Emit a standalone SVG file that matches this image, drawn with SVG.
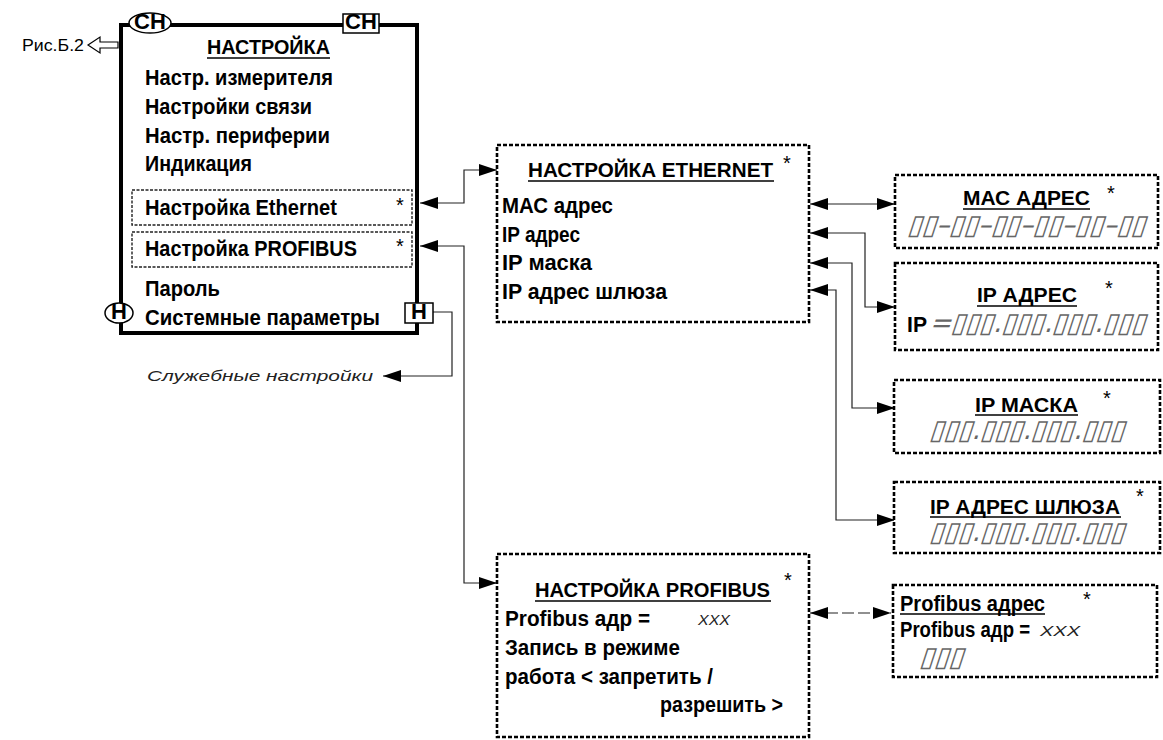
<svg xmlns="http://www.w3.org/2000/svg" width="1163" height="740" viewBox="0 0 1163 740">
<defs>
<style>
.b{font-family:"Liberation Sans",Arial,sans-serif;font-weight:bold;font-size:22px;fill:#000}
.t{font-size:21px}
.ast{font-family:"Liberation Sans",Arial,sans-serif;font-size:20px;fill:#000}
.it{font-family:"Liberation Sans",Arial,sans-serif;font-style:italic;font-weight:normal;font-size:15px;fill:#222}
.ph{font-family:"DejaVu Sans",sans-serif;font-size:23px;fill:#666}
.reg{font-family:"Liberation Sans",Arial,sans-serif;font-size:16px;fill:#000}
.box{fill:#fff;stroke:#000;stroke-width:2.6;stroke-dasharray:4 2}
.ibox{fill:none;stroke:#222;stroke-width:1.4;stroke-dasharray:3 1.5}
.ul{stroke:#000;stroke-width:1.5}
.c{fill:none;stroke:#222;stroke-width:1.2}
</style>
<marker id="ah" viewBox="0 0 18 12" markerWidth="18" markerHeight="12" refX="18" refY="6" orient="auto-start-reverse" markerUnits="userSpaceOnUse">
<path d="M0,0 L18,6 L0,12 z" fill="#000"/>
</marker>
</defs>
<rect width="1163" height="740" fill="#fff"/>

<g id="connectors">
<path class="c" d="M420,203 H464 V170 H497" marker-start="url(#ah)" marker-end="url(#ah)"/>
<path class="c" d="M420,246 H464 V583 H497" marker-start="url(#ah)" marker-end="url(#ah)"/>
<path class="c" d="M433,312 H452 V376 H383" marker-end="url(#ah)"/>
<path class="c" d="M810,204 H895" marker-start="url(#ah)" marker-end="url(#ah)"/>
<path class="c" d="M810,233 H865 V307 H895" marker-start="url(#ah)" marker-end="url(#ah)"/>
<path class="c" d="M810,263 H852 V408 H895" marker-start="url(#ah)" marker-end="url(#ah)"/>
<path class="c" d="M810,290 H836 V520 H895" marker-start="url(#ah)" marker-end="url(#ah)"/>
<path class="c" d="M810,613 H891" stroke-width="2" stroke-dasharray="12 4" marker-start="url(#ah)" marker-end="url(#ah)"/>
<polygon points="88,45 100,37 100,42 118,42 118,48 100,48 100,53" fill="#fff" stroke="#000" stroke-width="1.2"/>
</g>

<g id="ref-label">
<text class="reg" x="22" y="51" textLength="62" lengthAdjust="spacingAndGlyphs">Рис.Б.2</text>
</g>

<g id="main-menu">
<rect x="121" y="25" width="296" height="308" fill="#fff" stroke="#000" stroke-width="4"/>
<ellipse cx="150" cy="23" rx="21" ry="10" fill="#fff" stroke="#000" stroke-width="1.5"/>
<text class="b" x="150" y="29" font-size="15" text-anchor="middle">СН</text>
<rect x="343" y="14" width="36" height="19" fill="#fff" stroke="#000" stroke-width="1.5"/>
<text class="b" x="361" y="29" font-size="15" text-anchor="middle">СН</text>
<text class="b t" x="207" y="54" textLength="123" lengthAdjust="spacingAndGlyphs">НАСТРОЙКА</text>
<line class="ul" x1="207" y1="58" x2="330" y2="58"/>
<text class="b" x="145" y="85" textLength="188" lengthAdjust="spacingAndGlyphs">Настр. измерителя</text>
<text class="b" x="145" y="114" textLength="167" lengthAdjust="spacingAndGlyphs">Настройки связи</text>
<text class="b" x="145" y="143" textLength="185" lengthAdjust="spacingAndGlyphs">Настр. периферии</text>
<text class="b" x="145" y="171" textLength="107" lengthAdjust="spacingAndGlyphs">Индикация</text>
<rect class="ibox" x="132" y="190" width="280" height="35"/>
<text class="b" x="145" y="215" textLength="192" lengthAdjust="spacingAndGlyphs">Настройка Ethernet</text>
<text class="ast" x="396" y="212">*</text>
<rect class="ibox" x="132" y="232" width="280" height="35"/>
<text class="b" x="145" y="256" textLength="212" lengthAdjust="spacingAndGlyphs">Настройка PROFIBUS</text>
<text class="ast" x="396" y="253">*</text>
<text class="b" x="145" y="296" textLength="75" lengthAdjust="spacingAndGlyphs">Пароль</text>
<ellipse cx="119" cy="313" rx="14" ry="10" fill="#fff" stroke="#000" stroke-width="1.5"/>
<text class="b" x="119" y="319" font-size="15" text-anchor="middle">Н</text>
<text class="b" x="145" y="325" textLength="235" lengthAdjust="spacingAndGlyphs">Системные параметры</text>
<rect x="405" y="303" width="28" height="20" fill="#fff" stroke="#000" stroke-width="1.5"/>
<text class="b" x="419" y="319" font-size="15" text-anchor="middle">Н</text>
</g>

<g id="service-label">
<text class="it" x="147" y="381" textLength="226" lengthAdjust="spacingAndGlyphs">Служебные  настройки</text>
</g>

<g id="ethernet">
<rect class="box" x="497" y="145" width="312" height="177"/>
<text class="b t" x="528" y="177" textLength="245" lengthAdjust="spacingAndGlyphs">НАСТРОЙКА  ETHERNET</text>
<line class="ul" x1="528" y1="181" x2="774" y2="181"/>
<text class="ast" x="783" y="170">*</text>
<text class="b" x="502" y="213" textLength="111" lengthAdjust="spacingAndGlyphs">МАС адрес</text>
<text class="b" x="502" y="242" textLength="78" lengthAdjust="spacingAndGlyphs">IP адрес</text>
<text class="b" x="502" y="270" textLength="90" lengthAdjust="spacingAndGlyphs">IP маска</text>
<text class="b" x="502" y="299" textLength="165" lengthAdjust="spacingAndGlyphs">IP адрес шлюза</text>
</g>

<g id="mac">
<rect class="box" x="895" y="175" width="263" height="73"/>
<text class="b t" x="963" y="205" textLength="127" lengthAdjust="spacingAndGlyphs">МАС  АДРЕС</text>
<line class="ul" x1="963" y1="209" x2="1090" y2="209"/>
<text class="ast" x="1107" y="200">*</text>
<g transform="translate(907,234) skewX(-18) scale(1,1.2)"><text class="ph" x="0" y="0" textLength="238" lengthAdjust="spacingAndGlyphs">▯▯–▯▯–▯▯–▯▯–▯▯–▯▯</text></g>
</g>

<g id="ip">
<rect class="box" x="895" y="263" width="263" height="87"/>
<text class="b t" x="977" y="302" textLength="100" lengthAdjust="spacingAndGlyphs">IP  АДРЕС</text>
<line class="ul" x1="977" y1="306" x2="1077" y2="306"/>
<text class="ast" x="1105" y="295">*</text>
<text class="b" x="907" y="332" textLength="20" lengthAdjust="spacingAndGlyphs">IP</text>
<g transform="translate(929,332) skewX(-18) scale(1,1.2)"><text class="ph" x="0" y="0" textLength="216" lengthAdjust="spacingAndGlyphs">=▯▯▯.▯▯▯.▯▯▯.▯▯▯</text></g>
</g>

<g id="mask">
<rect class="box" x="894" y="380" width="266" height="73"/>
<text class="b t" x="975" y="412" textLength="103" lengthAdjust="spacingAndGlyphs">IP  МАСКА</text>
<line class="ul" x1="975" y1="415" x2="1078" y2="415"/>
<text class="ast" x="1103" y="405">*</text>
<g transform="translate(929,439) skewX(-18) scale(1,1.2)"><text class="ph" x="0" y="0" textLength="195" lengthAdjust="spacingAndGlyphs">▯▯▯.▯▯▯.▯▯▯.▯▯▯</text></g>
</g>

<g id="gateway">
<rect class="box" x="894" y="482" width="266" height="71"/>
<text class="b t" x="930" y="514" textLength="190" lengthAdjust="spacingAndGlyphs">IP  АДРЕС ШЛЮЗА</text>
<line class="ul" x1="930" y1="517" x2="1121" y2="517"/>
<text class="ast" x="1136" y="503">*</text>
<g transform="translate(929,541) skewX(-18) scale(1,1.2)"><text class="ph" x="0" y="0" textLength="195" lengthAdjust="spacingAndGlyphs">▯▯▯.▯▯▯.▯▯▯.▯▯▯</text></g>
</g>

<g id="profibus">
<rect class="box" x="497" y="554" width="312" height="183"/>
<text class="b t" x="535" y="597" textLength="235" lengthAdjust="spacingAndGlyphs">НАСТРОЙКА PROFIBUS</text>
<line class="ul" x1="535" y1="601" x2="771" y2="601"/>
<text class="ast" x="784" y="587">*</text>
<text class="b" x="505" y="626" textLength="145" lengthAdjust="spacingAndGlyphs">Profibus адр  =</text>
<text class="it" x="698" y="625" textLength="32" lengthAdjust="spacingAndGlyphs">XXX</text>
<text class="b" x="505" y="655" textLength="175" lengthAdjust="spacingAndGlyphs">Запись в режиме</text>
<text class="b" x="505" y="684" textLength="208" lengthAdjust="spacingAndGlyphs">работа &lt; запретить /</text>
<text class="b" x="660" y="712" textLength="123" lengthAdjust="spacingAndGlyphs">разрешить &gt;</text>
</g>

<g id="profibus-addr">
<rect class="box" x="893" y="585" width="264" height="92"/>
<text class="b" x="900" y="611" textLength="145" lengthAdjust="spacingAndGlyphs">Profibus адрес</text>
<line class="ul" x1="900" y1="614" x2="1045" y2="614"/>
<text class="ast" x="1083" y="606">*</text>
<text class="b" x="900" y="637" font-size="17" textLength="130" lengthAdjust="spacingAndGlyphs">Profibus адр =</text>
<text class="it" x="1040" y="636" textLength="40" lengthAdjust="spacingAndGlyphs">XXX</text>
<g transform="translate(919,666) skewX(-18) scale(1,1.2)"><text class="ph" x="0" y="0" textLength="44" lengthAdjust="spacingAndGlyphs">▯▯▯</text></g>
</g>
</svg>
